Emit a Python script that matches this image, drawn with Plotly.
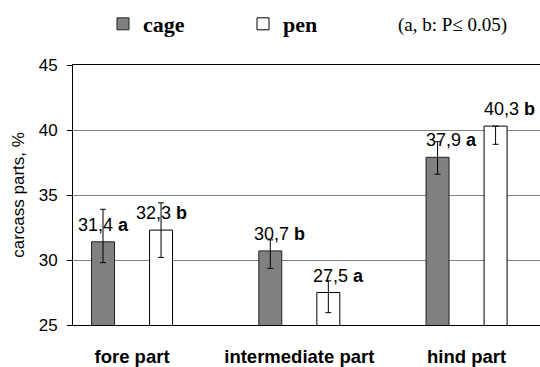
import plotly.graph_objects as go

# ---- data ----
categories = ["fore part", "intermediate part", "hind part"]
cage_values = [31.4, 30.7, 37.9]
pen_values = [32.3, 27.5, 40.3]
cage_err_plus = [2.5, 0.85, 1.2]
cage_err_minus = [1.6, 1.35, 1.3]
pen_err_plus = [2.1, 0.9, 0.0]
pen_err_minus = [2.1, 1.55, 1.4]
cage_letters = ["a", "b", "a"]
pen_letters = ["b", "a", "b"]
y_ticks = [25, 30, 35, 40, 45]

# ---- styles ----
BARGAP = 0.306
BARGROUPGAP = 0.604
half = (1 - BARGAP) / 4  # centre offset of each bar in a group
label_dx_cage = [0, 9, 14]
label_dx_pen = [0, 10, 14]
LABEL_DY = 17
sans = "Liberation Sans"
serif = "Liberation Serif"


def fmt(v):
    return f"{v:.1f}".replace(".", ",")


fig = go.Figure()
fig.add_trace(go.Bar(
    name="<b>cage</b>", x=categories, y=cage_values,
    marker=dict(color="#808080", line=dict(color="#222222", width=1)),
    error_y=dict(type="data", symmetric=False, array=cage_err_plus,
                 arrayminus=cage_err_minus, color="black", thickness=1, width=3),
))
fig.add_trace(go.Bar(
    name="<b>pen</b>", x=categories, y=pen_values,
    marker=dict(color="white", line=dict(color="black", width=1)),
    error_y=dict(type="data", symmetric=False, array=pen_err_plus,
                 arrayminus=pen_err_minus, color="black", thickness=1, width=3),
))

annotations = []
for i, (v, l) in enumerate(zip(cage_values, cage_letters)):
    annotations.append(dict(x=i - half, y=v, xref="x", yref="y", text=f"{fmt(v)} <b>{l}</b>",
                            showarrow=False, yanchor="middle", xanchor="center",
                            yshift=LABEL_DY, xshift=label_dx_cage[i],
                            font=dict(family=sans, size=18, color="black")))
for i, (v, l) in enumerate(zip(pen_values, pen_letters)):
    annotations.append(dict(x=i + half, y=v, xref="x", yref="y", text=f"{fmt(v)} <b>{l}</b>",
                            showarrow=False, yanchor="middle", xanchor="center",
                            yshift=LABEL_DY, xshift=label_dx_pen[i],
                            font=dict(family=sans, size=18, color="black")))
annotations.append(dict(x=(396 - 73) / 467, y=(325 - 25) / 260, xref="paper", yref="paper",
                        xanchor="left", yanchor="middle",
                        text="(a, b: P\u2264 0.05)", showarrow=False,
                        font=dict(family=serif, size=19, color="black")))

fig.update_layout(
    annotations=annotations,
    width=540, height=367,
    margin=dict(l=73, r=0, t=65, b=42, autoexpand=False),
    paper_bgcolor="white", plot_bgcolor="white",
    barmode="group", bargap=BARGAP, bargroupgap=BARGROUPGAP,
    showlegend=True,
    legend=dict(orientation="h", xref="container", yref="container",
                x=103 / 540, y=1 - 3 / 367, xanchor="left", yanchor="top",
                font=dict(family=serif, size=22, color="black"),
                entrywidth=95, entrywidthmode="pixels", traceorder="normal",
                bgcolor="rgba(0,0,0,0)"),
    xaxis=dict(type="category", range=[-0.353, 2.439], showline=True, mirror=True,
               linecolor="black", linewidth=1, ticks="", showgrid=False,
               tickfont=dict(family=sans, size=18.5, color="black"),
               ticktext=[f"<b>{c}</b>" for c in categories], tickvals=categories,
               ticklabelstandoff=15, automargin=False),
    yaxis=dict(range=[25, 45], tickvals=y_ticks, showline=True, linecolor="black",
               linewidth=1, ticks="outside", ticklen=5, tickcolor="black",
               showgrid=True, gridcolor="#808080", gridwidth=1, zeroline=False,
               tickfont=dict(family=sans, size=17, color="black"),
               ticklabelstandoff=6, automargin=False,
               title=dict(text="carcass parts, %", standoff=9,
                          font=dict(family=sans, size=17, color="black"))),
)

fig.write_html("out.html", config={"displayModeBar": False},
               post_script="document.body.style.margin='0';document.body.style.padding='0';")
